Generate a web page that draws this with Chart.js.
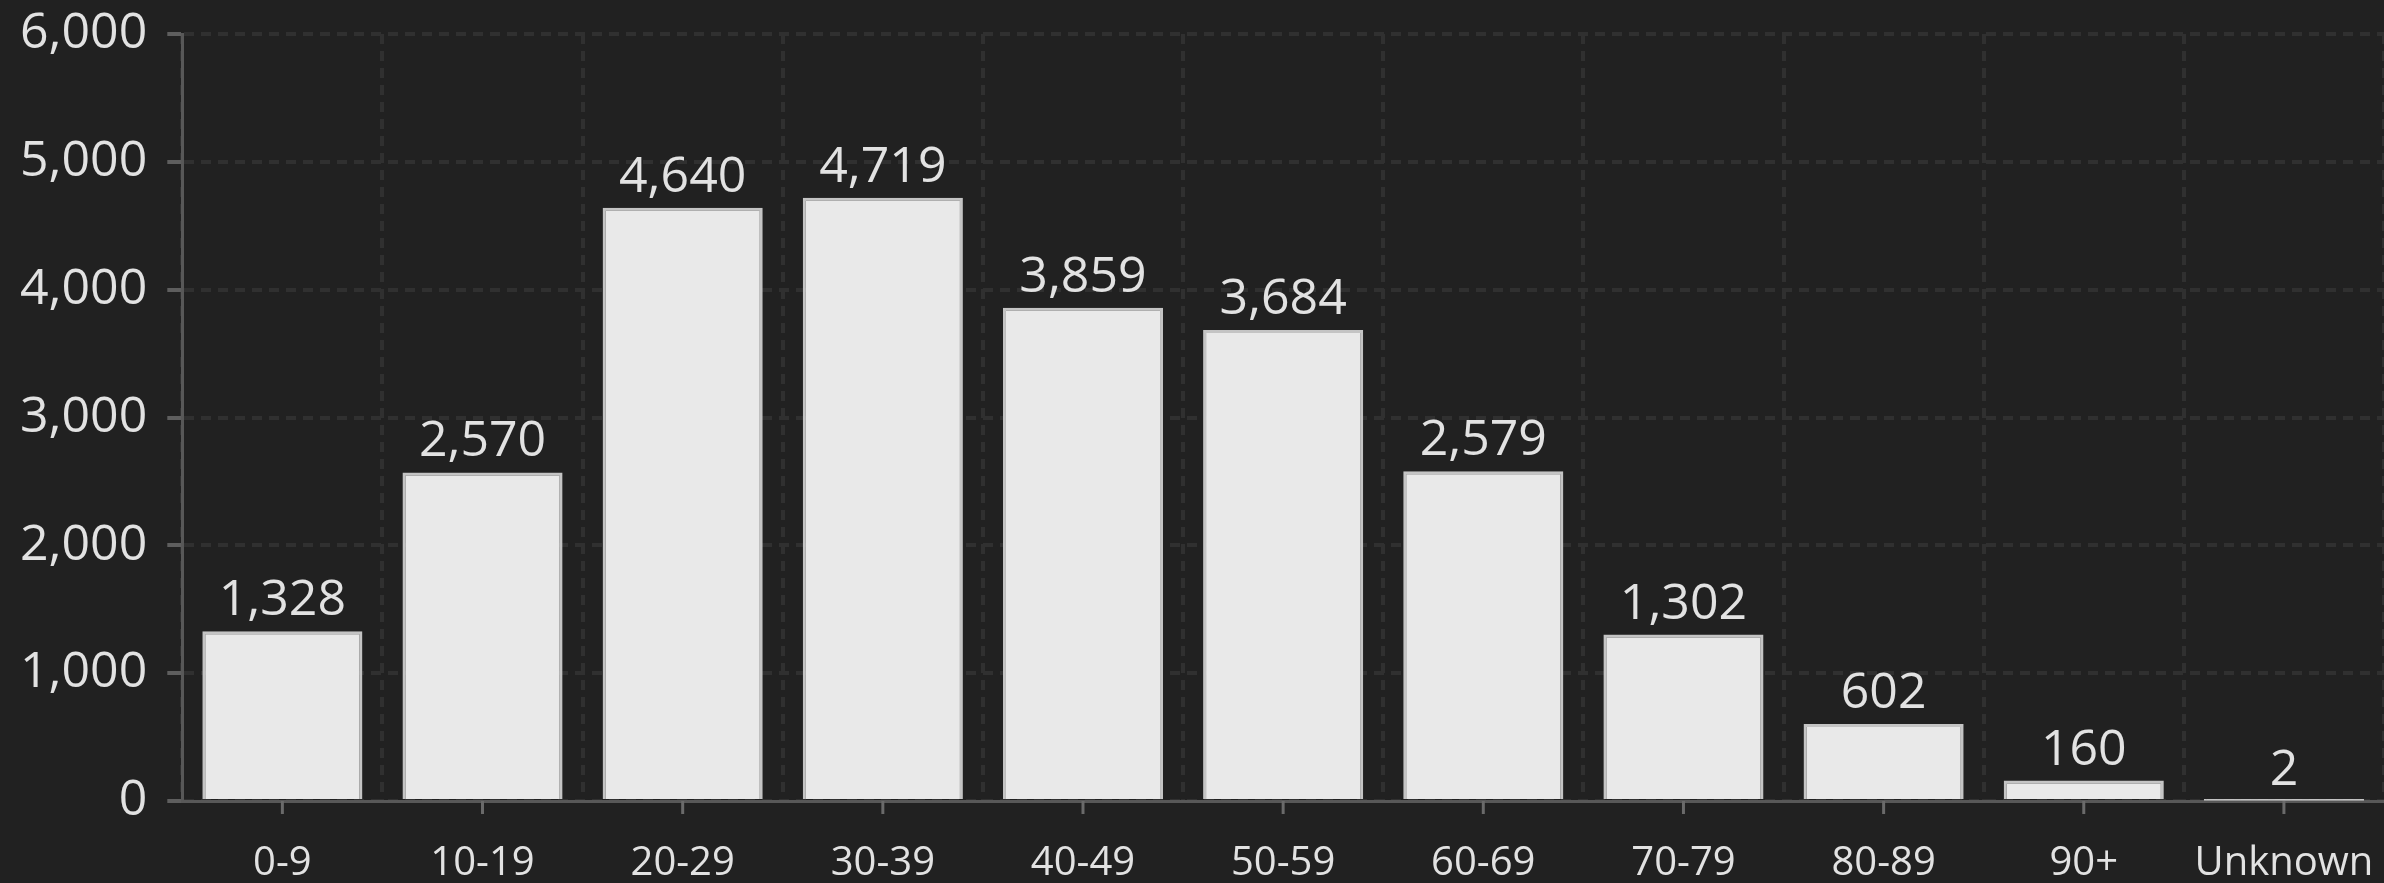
<!DOCTYPE html>
<html>
<head>
<meta charset="utf-8">
<script src="https://cdn.jsdelivr.net/npm/chart.js@4.4.1/dist/chart.umd.min.js"></script>
<style>
html,body{margin:0;padding:0;background:#212121}
#wrap{width:2384px;height:883px;position:relative}
</style>
</head>
<body>
<div id="wrap"><canvas id="ageChart"></canvas></div>
<script>
const ageGroups=["0-9","10-19","20-29","30-39","40-49","50-59","60-69","70-79","80-89","90+","Unknown"]
const caseCounts=[1328,2570,4640,4719,3859,3684,2579,1302,602,160,2]
const yTicks=[0,1000,2000,3000,4000,5000,6000]

const FONT="'Segoe UI','Open Sans','Noto Sans',sans-serif"
const TEXT="#e2e2e2"

// value labels above each bar + tick marks at category centres
const barLabels={
id:"barLabels",
afterDatasetsDraw(chart){
const ctx=chart.ctx
const meta=chart.getDatasetMeta(0)
ctx.save()
ctx.font="50px "+FONT
ctx.fillStyle=TEXT
ctx.textAlign="center"
ctx.textBaseline="alphabetic"
meta.data.forEach((bar,i)=>{
ctx.fillText(caseCounts[i].toLocaleString("en-US"),bar.x,bar.y-16)
})
const xs=chart.scales.x
ctx.strokeStyle="#6a6a6a"
ctx.lineWidth=3
ageGroups.forEach((g,i)=>{
const px=xs.getPixelForTick(i)
ctx.beginPath()
ctx.moveTo(px,xs.top)
ctx.lineTo(px,xs.top+13)
ctx.stroke()
})
ctx.restore()
}
}

new Chart(document.getElementById("ageChart"),{
type:"bar",
data:{
labels:ageGroups,
datasets:[{
data:caseCounts,
backgroundColor:"#e9e9e9",
borderColor:"#c4c4c4",
borderWidth:3,
barPercentage:1,
categoryPercentage:0.8
}]
},
options:{
responsive:true,
maintainAspectRatio:false,
animation:false,
layout:{padding:{top:0,right:0,bottom:0,left:0}},
plugins:{
legend:{display:false},
tooltip:{enabled:false}
},
scales:{
x:{
afterFit(scale){
scale.height=82
},
grid:{
offset:true,
color:"#303030",
lineWidth:4,
tickLength:42,
tickColor:"rgba(0,0,0,0)"
},
border:{display:true,color:"#585858",width:3,dash:[10,7]},
ticks:{
color:TEXT,
font:{family:FONT,size:40,lineHeight:1.05},
padding:0,
maxRotation:0,
autoSkip:false
}
},
y:{
min:0,
max:6000,
afterBuildTicks(scale){
scale.ticks=yTicks.map(v=>({value:v}))
},
grid:{
color:"#303030",
lineWidth:4,
tickLength:15,
tickColor:"#5e5e5e",
tickBorderDash:[]
},
border:{display:true,color:"#585858",width:3,dash:[10,7]},
ticks:{
color:TEXT,
font:{family:FONT,size:50,lineHeight:0.56},
padding:20,
callback:(v)=>Number(v).toLocaleString("en-US")
}
}
}
},
plugins:[barLabels]
})
</script>
</body>
</html>
